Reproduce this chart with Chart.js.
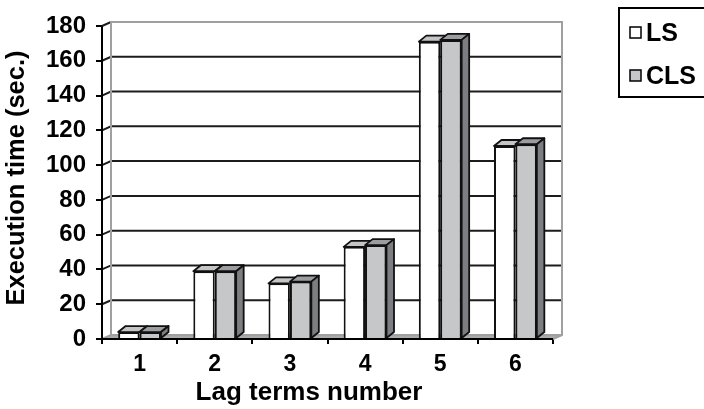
<!DOCTYPE html>
<html>
<head>
<meta charset="utf-8">
<script src="https://cdn.jsdelivr.net/npm/chart.js@4/dist/chart.umd.min.js"></script>
<style>
  html, body { margin: 0; padding: 0; background: #fff; }
  #grafico { display: block; }
</style>
</head>
<body>
<canvas id="grafico" width="704" height="409"></canvas>
<script>
// categorias e valores
const categorias = ['1', '2', '3', '4', '5', '6'];
const valoresLS = [4, 39, 32, 53, 171, 111];
const valoresCLS = [4, 39, 33, 54, 172, 112];
const ticksY = [0, 20, 40, 60, 80, 100, 120, 140, 160, 180];
const tituloX = 'Lag terms number';
const tituloY = 'Execution time (sec.)';

const FONTE = '"Liberation Sans", Arial, sans-serif';

// profundidade da parede e das barras (efeito 3D)
const PX = 9, PY = -4;
const BX = 7.5, BY = -6;

function face(ctx, pts, cor) {
    ctx.beginPath();
    ctx.moveTo(pts[0][0], pts[0][1]);
    for (let i = 1; i < pts.length; i++) ctx.lineTo(pts[i][0], pts[i][1]);
    ctx.closePath();
    ctx.fillStyle = cor;
    ctx.fill();
    ctx.strokeStyle = '#111';
    ctx.lineWidth = 1.8;
    ctx.lineJoin = 'round';
    ctx.stroke();
}

const parede3d = {
    id: 'parede3d',
    beforeDatasetsDraw(chart) {
        const { ctx, chartArea: a, scales: { y } } = chart;
        ctx.save();
        // chao
        ctx.fillStyle = '#ababab';
        ctx.beginPath();
        ctx.moveTo(a.left, a.bottom);
        ctx.lineTo(a.right, a.bottom);
        ctx.lineTo(a.right + PX, a.bottom + PY);
        ctx.lineTo(a.left + PX, a.bottom + PY);
        ctx.closePath();
        ctx.fill();

        // linhas de grade na parede do fundo
        ctx.strokeStyle = '#1c1c1c';
        ctx.lineWidth = 2;
        ticksY.forEach(v => {
            if (v === 0) return;
            const py = y.getPixelForValue(v);
            ctx.beginPath();
            ctx.moveTo(a.left, py);
            ctx.lineTo(a.left + PX, py + PY);
            if (v < y.max) ctx.lineTo(a.right + PX, py + PY);
            ctx.stroke();
        });

        // bordas da parede
        ctx.strokeStyle = '#a0a0a0';
        ctx.beginPath();
        ctx.moveTo(a.left + PX, a.bottom + PY);
        ctx.lineTo(a.left + PX, a.top + PY);
        ctx.lineTo(a.right + PX, a.top + PY);
        ctx.lineTo(a.right + PX, a.bottom + PY);
        ctx.lineTo(a.right, a.bottom);
        ctx.moveTo(a.left, a.bottom);
        ctx.lineTo(a.left + PX, a.bottom + PY);
        ctx.lineTo(a.right + PX, a.bottom + PY);
        ctx.stroke();

        // eixo y
        ctx.strokeStyle = '#000';
        ctx.beginPath();
        ctx.moveTo(a.left, a.top);
        ctx.lineTo(a.left, a.bottom);
        ctx.stroke();
        ctx.restore();
    },
    afterDatasetsDraw(chart) {
        const { ctx, chartArea: a } = chart;
        const metas = chart.data.datasets.map((d, i) => chart.getDatasetMeta(i));
        ctx.save();
        for (let i = 0; i < categorias.length; i++) {
            metas.forEach((meta, k) => {
                const ds = chart.data.datasets[k];
                const bar = meta.data[i];
                const { x, y, base, width } = bar.getProps(['x', 'y', 'base', 'width'], true);
                const l = x - width / 2, r = x + width / 2;
                if (k > 0) bar.draw(ctx);
                face(ctx, [[l, y], [r, y], [r + BX, y + BY], [l + BX, y + BY]], ds.corTopo);
                if (k === metas.length - 1) {
                    face(ctx, [[r, y], [r + BX, y + BY], [r + BX, base + BY], [r, base]], ds.corLado);
                }
            });
        }
        // eixo x por cima das barras
        ctx.strokeStyle = '#000';
        ctx.lineWidth = 2;
        ctx.beginPath();
        ctx.moveTo(a.left - 1, a.bottom);
        ctx.lineTo(a.right, a.bottom);
        ctx.stroke();
        ctx.restore();
    },
    afterDraw(chart) {
        const { ctx } = chart;
        ctx.save();
        ctx.fillStyle = '#000';
        ctx.font = 'bold 26px ' + FONTE;
        ctx.textAlign = 'center';
        ctx.textBaseline = 'middle';
        ctx.fillText(tituloX, 309, 393);
        ctx.font = 'bold 25.5px ' + FONTE;
        ctx.translate(17, 178);
        ctx.rotate(-Math.PI / 2);
        ctx.fillText(tituloY, 0, 0);
        ctx.restore();

        // legenda
        ctx.save();
        ctx.strokeStyle = '#000';
        ctx.lineWidth = 2;
        ctx.strokeRect(619, 8, 100, 89);
        ctx.font = 'bold 25px ' + FONTE;
        ctx.textBaseline = 'alphabetic';
        ctx.textAlign = 'left';
        chart.data.datasets.forEach((ds, k) => {
            const yy = 27 + k * 43;
            ctx.fillStyle = ds.backgroundColor;
            ctx.fillRect(630, yy, 11, 11);
            ctx.lineWidth = 1.5;
            ctx.strokeRect(630, yy, 11, 11);
            ctx.fillStyle = '#000';
            ctx.fillText(ds.label, 646, yy + 14);
        });
        ctx.restore();
    }
};

new Chart(document.getElementById('grafico'), {
    type: 'bar',
    data: {
        labels: categorias,
        datasets: [{
            label: 'LS',
            data: valoresLS,
            backgroundColor: '#ffffff',
            borderColor: '#111',
            borderWidth: 2,
            corTopo: '#c4c5c7'
        }, {
            label: 'CLS',
            data: valoresCLS,
            backgroundColor: '#c6c7c9',
            borderColor: '#111',
            borderWidth: 2,
            corTopo: '#9c9da0',
            corLado: '#7d7e81'
        }]
    },
    options: {
        responsive: false,
        animation: false,
        devicePixelRatio: 1,
        layout: { padding: { top: 26, right: 151, left: 0, bottom: 0 } },
        plugins: {
            legend: { display: false },
            tooltip: { enabled: false }
        },
        datasets: {
            bar: { categoryPercentage: 0.57, barPercentage: 1.0 }
        },
        scales: {
            x: {
                afterFit(s) { s.height = 70; },
                grid: { drawOnChartArea: false, drawTicks: true, tickLength: 5, color: '#000', lineWidth: 2, offset: true },
                border: { display: false },
                ticks: { color: '#000', font: { family: FONTE, size: 23, weight: 'bold' }, padding: 7, maxRotation: 0 }
            },
            y: {
                min: 0,
                max: 180,
                afterFit(s) { s.width = 102; },
                afterBuildTicks(s) { s.ticks = ticksY.map(v => ({ value: v })); },
                grid: { drawOnChartArea: false, drawTicks: true, tickLength: 6, color: '#000', lineWidth: 2 },
                border: { display: false },
                ticks: { color: '#000', font: { family: FONTE, size: 24, weight: 'bold' }, padding: 10 }
            }
        }
    },
    plugins: [parede3d]
});
</script>
</body>
</html>
